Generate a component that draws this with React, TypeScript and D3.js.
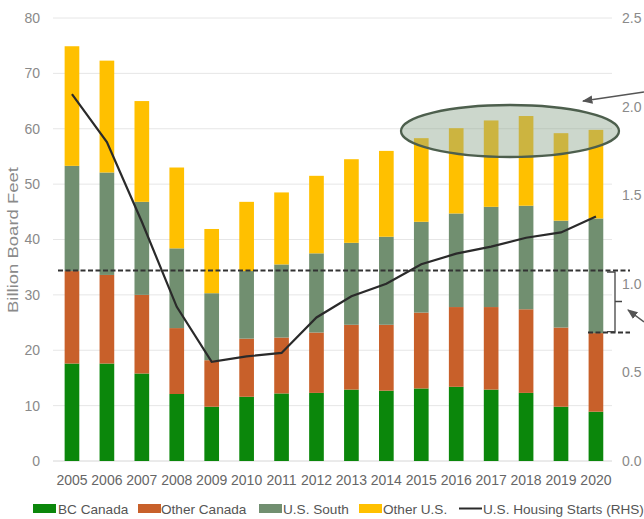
import React from 'react';
import * as d3 from 'd3';

const years = ['2005','2006','2007','2008','2009','2010','2011','2012','2013','2014','2015','2016','2017','2018','2019','2020'];
const bcCanada = [17.6, 17.6, 15.8, 12.1, 9.8, 11.6, 12.2, 12.3, 12.9, 12.7, 13.1, 13.4, 12.9, 12.3, 9.8, 8.9];
const otherCanada = [16.7, 16.0, 14.2, 11.9, 8.4, 10.5, 10.1, 10.9, 11.7, 11.9, 13.7, 14.4, 14.9, 15.1, 14.3, 14.2];
const usSouth = [19.0, 18.5, 16.8, 14.4, 12.1, 12.2, 13.2, 14.3, 14.8, 15.9, 16.4, 16.9, 18.1, 18.7, 19.3, 20.7];
const otherUS = [21.6, 20.2, 18.2, 14.6, 11.6, 12.5, 13.0, 14.0, 15.1, 15.5, 15.1, 15.4, 15.6, 16.2, 15.8, 16.0];
const housingStarts = [2.07, 1.80, 1.35, 0.87, 0.56, 0.59, 0.61, 0.81, 0.93, 1.00, 1.11, 1.17, 1.21, 1.26, 1.29, 1.38];
const leftTicks = [0, 10, 20, 30, 40, 50, 60, 70, 80];
const rightTicks = [0, 0.5, 1.0, 1.5, 2.0, 2.5];
const seriesKeys = ['bc', 'oc', 'us', 'ou'];
const seriesNames = ['BC Canada', 'Other Canada', 'U.S. South', 'Other U.S.'];
const lineName = 'U.S. Housing Starts (RHS)';
const upperRef = 34.4;
const lowerRef = 23.2;

const colors: Record<string, string> = { bc: '#0b870b', oc: '#c8602a', us: '#718f70', ou: '#ffc000' };
const FONT = '"Liberation Sans", Arial, sans-serif';

export default function App() {
  const x = d3.scaleBand<string>().domain(years).range([54.5, 613.4]).paddingInner(0.58).paddingOuter(0.29);
  const yL = d3.scaleLinear().domain([0, 80]).range([461, 18]);
  const yR = d3.scaleLinear().domain([0, 2.5]).range([461, 18]);
  const rows = years.map((yr, i) => ({ year: yr, bc: bcCanada[i], oc: otherCanada[i], us: usSouth[i], ou: otherUS[i] }));
  const stacked = d3.stack<any>().keys(seriesKeys)(rows);
  const cx = (yr: string) => (x(yr) as number) + x.bandwidth() / 2;
  const linePath = d3.line<number>().x((_, i) => cx(years[i])).y(d => yR(d))(housingStarts) || '';

  const legendItems = [
    { label: seriesNames[0], key: 'bc', sx: 33, tx: 58 },
    { label: seriesNames[1], key: 'oc', sx: 138, tx: 161 },
    { label: seriesNames[2], key: 'us', sx: 259, tx: 283 },
    { label: seriesNames[3], key: 'ou', sx: 359, tx: 383 },
  ];

  const yU = yL(upperRef);
  const yLo = yL(lowerRef);

  return (
    <div style={{ position: 'absolute', left: 0, top: 0 }}>
      <svg width={644} height={519} style={{ display: 'block', background: '#fff' }}>
        <defs>
          <marker id="arr" viewBox="0 0 10 10" refX="9" refY="5" markerWidth="7" markerHeight="7" orient="auto-start-reverse">
            <path d="M0,1 L10,5 L0,9 z" fill="#555" />
          </marker>
        </defs>
        {leftTicks.map(t => (
          <line key={'g' + t} x1={53} x2={612} y1={yL(t)} y2={yL(t)} stroke={t === 0 ? '#d6d6d6' : '#e6e6e6'} strokeWidth={1} />
        ))}
        {leftTicks.map(t => (
          <text key={'l' + t} x={40} y={yL(t)} dy="0.35em" textAnchor="end" fontFamily={FONT} fontSize={14} fill="#8a8a8a">{t}</text>
        ))}
        {rightTicks.map(t => (
          <text key={'r' + t} x={622} y={yR(t)} dy="0.35em" textAnchor="start" fontFamily={FONT} fontSize={14} fill="#8a8a8a">{t.toFixed(1)}</text>
        ))}
        <text transform="translate(18,240) scale(0.75,1) rotate(-90)" textAnchor="middle" fontFamily={FONT} fontSize={18.5} fill="#8a8a8a">Billion Board Feet</text>
        {stacked.map(s => (
          <g key={s.key} fill={colors[s.key]}>
            {s.map((d: any, i: number) => (
              <rect key={i} x={x(years[i])} width={x.bandwidth()} y={yL(d[1])} height={yL(d[0]) - yL(d[1])} />
            ))}
          </g>
        ))}
        {years.map(yr => (
          <text key={'x' + yr} x={cx(yr)} y={485} textAnchor="middle" fontFamily={FONT} fontSize={14} fill="#666">{yr}</text>
        ))}
        <ellipse cx={510} cy={131} rx={109} ry={26} fill="#8fa68f" fillOpacity={0.45} stroke="#4d5f4d" strokeWidth={2.3} />
        <path d={linePath} fill="none" stroke="#2a2a2a" strokeWidth={2.2} />
        <line x1={58} x2={630} y1={yU} y2={yU} stroke="#333" strokeWidth={1.9} strokeDasharray="5,2.5" />
        <line x1={588} x2={630} y1={yLo} y2={yLo} stroke="#333" strokeWidth={1.9} strokeDasharray="5,2.5" />
        <path d={`M607,${yU + 1.5} H615 V${yLo - 1} H607 M615,${(yU + yLo) / 2} H622`} fill="none" stroke="#444" strokeWidth={1.3} />
        <line x1={644} y1={92} x2={583} y2={101} stroke="#555" strokeWidth={1.5} markerEnd="url(#arr)" />
        <line x1={644} y1={322} x2={628} y2={310} stroke="#555" strokeWidth={1.5} markerEnd="url(#arr)" />
        {legendItems.map(it => (
          <g key={it.key}>
            <rect x={it.sx} y={504} width={23} height={9} fill={colors[it.key]} />
            <text x={it.tx} y={514} fontFamily={FONT} fontSize={13.6} fill="#555">{it.label}</text>
          </g>
        ))}
        <line x1={459} x2={482} y1={508.5} y2={508.5} stroke="#2a2a2a" strokeWidth={2} />
        <text x={483} y={514} fontFamily={FONT} fontSize={13.6} fill="#555">{lineName}</text>
      </svg>
    </div>
  );
}
